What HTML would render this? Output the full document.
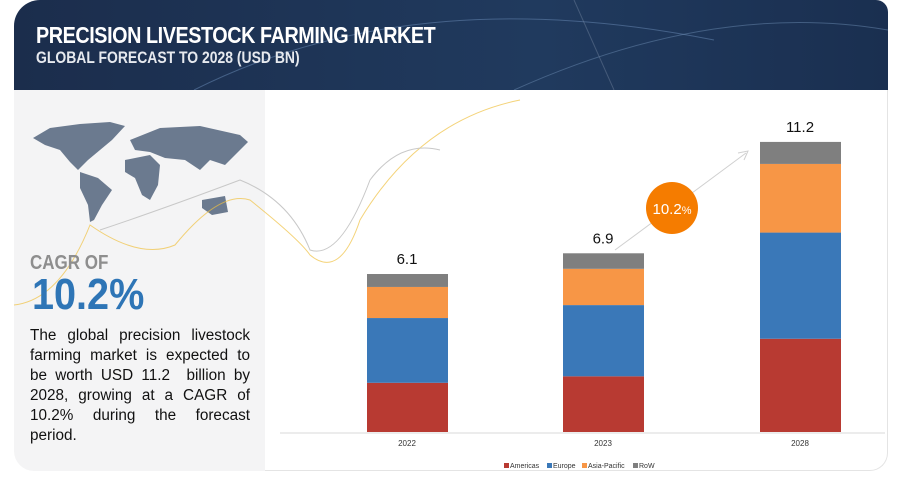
<!DOCTYPE html>
<html><head><meta charset="utf-8"><style>
body{margin:0;width:900px;height:479px;background:#fff;overflow:hidden;font-family:"Liberation Sans",sans-serif;position:relative}
#hdr{position:absolute;left:14px;top:0;width:874px;height:90px;background:linear-gradient(90deg,#1b2d4c,#203a5e 60%,#1a2f50);border-top-left-radius:26px;border-top-right-radius:12px;overflow:hidden}
#t1{position:absolute;left:22px;top:22px;color:#fff;font-size:23px;font-weight:bold;letter-spacing:-0.5px;transform:scaleX(0.86);transform-origin:left}
#t2{position:absolute;left:22px;top:48px;color:#e6e9ee;font-size:17px;font-weight:bold;transform:scaleX(0.82);transform-origin:left}
#left{position:absolute;left:14px;top:90px;width:251px;height:381px;background:#f4f4f5;border-bottom-left-radius:20px}
#frame{position:absolute;left:265px;top:90px;width:622px;height:380px;border-right:1px solid #e4e4e4;border-bottom:1px solid #e4e4e4;border-bottom-right-radius:18px}
#cagr{position:absolute;left:30px;top:252px;font-size:20px;color:#8e8e8e;font-weight:bold;transform:scaleX(0.85);transform-origin:left}
#big{position:absolute;left:32px;top:270px;font-size:44px;color:#2e75b6;font-weight:bold;transform:scaleX(0.9);transform-origin:left}
#desc{position:absolute;left:30px;top:326px;width:220px;font-size:15.3px;line-height:20px;color:#111;text-align:justify}
svg{position:absolute;left:0;top:0}
</style></head><body>
<div id="hdr">
<svg width="874" height="90"><path d="M180 90 Q400 -20 700 40" stroke="#5f7fa8" stroke-width="1" fill="none" opacity=".6"/><path d="M500 90 Q700 0 874 30" stroke="#6a8ab0" fill="none" opacity=".5"/><path d="M560 0 L600 90" stroke="#7c8fa8" fill="none" opacity=".4"/></svg>
<div id="t1">PRECISION LIVESTOCK FARMING MARKET</div>
<div id="t2">GLOBAL FORECAST TO 2028 (USD BN)</div>
</div>
<div id="left"></div>
<div id="frame"></div>
<svg width="900" height="479" id="deco">
<g fill="#6b7a8f">
<path d="M33 138 L50 128 L80 124 L110 122 L125 126 L112 140 L100 150 L88 160 L78 170 L70 162 L60 150 L45 145 Z"/>
<path d="M80 172 L98 178 L112 190 L102 205 L94 220 L90 222 L88 205 L80 188 Z"/>
<path d="M125 160 L150 155 L160 165 L158 185 L150 200 L142 195 L135 178 L125 172 Z"/>
<path d="M130 140 L160 128 L200 126 L240 135 L248 142 L235 155 L225 165 L210 160 L200 170 L185 160 L165 158 L150 152 L135 150 Z"/>
<path d="M202 200 L225 196 L228 212 L212 215 L202 208 Z"/>
</g>
<path d="M14 305 Q60 300 90 225 Q140 260 175 245 Q220 190 250 200 Q300 240 310 255 Q340 280 360 220 Q420 120 520 100" stroke="#f0c040" fill="none" opacity=".7"/>
<path d="M100 230 Q160 210 240 180 Q290 200 310 250 Q340 260 370 180 Q400 140 440 150" stroke="#c8c8c8" fill="none"/>
</svg>
<div id="cagr">CAGR OF</div>
<div id="big">10.2%</div>
<div id="desc">The global precision livestock farming market is expected to be worth USD 11.2 &nbsp;billion by 2028, growing at a CAGR of 10.2% during the forecast period.</div>
<svg width="900" height="479" id="chart"></svg>
<script>
const years=["2022","2023","2028"];
const americas=[1.9,2.15,3.6];
const europe=[2.5,2.75,4.1];
const asiaPacific=[1.2,1.4,2.65];
const row=[0.5,0.6,0.85];
const totals=["6.1","6.9","11.2"];
const seriesNames=["Americas","Europe","Asia-Pacific","RoW"];
const NS="http://www.w3.org/2000/svg";
const svg=document.getElementById('chart');
const base=432,k=25.9;
const y=v=>base-v*k;
const xc=i=>[407,603,800][i];
function mk(t,a){const e=document.createElementNS(NS,t);for(const p in a)e.setAttribute(p,a[p]);svg.appendChild(e);return e;}
const l=mk('line',{x1:280,x2:885,y1:base+1,y2:base+1,stroke:'#d9d9d9'});


const ar=mk('path',{d:'M615 250 L746 153 M738 153 L748 151 L744 160',stroke:'#d0d0d0',fill:'none'});


const c=mk('circle',{cx:672,cy:208,r:26,fill:'#f57c00'});


const ct=mk('text',{x:672,y:214,'text-anchor':'middle',fill:'#fff','font-size':15});
ct.innerHTML='10.2<tspan font-size="11">%</tspan>';


const series=[americas,europe,asiaPacific,row];
const colors=['#b83a32','#3a78b8','#f79646','#7f7f7f'];
years.forEach((yr,i)=>{
 let acc=0;
 series.forEach((s,j)=>{
  const r=mk('rect',{x:xc(i)-40,width:81,y:y(acc+s[i]),height:s[i]*k,fill:colors[j]});
  
  
  acc+=s[i];
 });
 const t=mk('text',{x:xc(i),y:y(acc)-10,'text-anchor':'middle','font-size':15,fill:'#111'});
 t.textContent=totals[i];
 
 
 const xl=mk('text',{x:xc(i),y:446,'text-anchor':'middle','font-size':8,fill:'#333'});
 xl.textContent=yr;
 
 
});
const lx=[504,547,582,633];
seriesNames.forEach((n,j)=>{
 const r=mk('rect',{x:lx[j],y:463,width:5,height:5,fill:colors[j]});
 
 
 const t=mk('text',{x:lx[j]+6,y:468,'font-size':7,fill:'#333'});
 t.textContent=n;
 
 
});
</script>
</body></html>
